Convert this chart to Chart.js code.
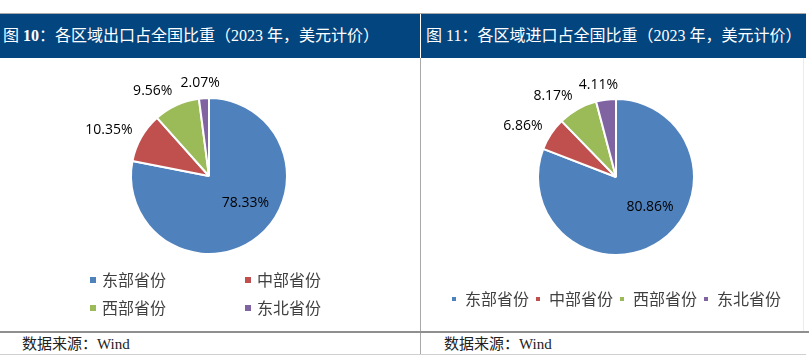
<!DOCTYPE html>
<html>
<head>
<meta charset="utf-8">
<script src="https://cdn.jsdelivr.net/npm/chart.js@4"></script>
<style>
  body { margin: 0; width: 812px; height: 364px; background: #fff; position: relative; overflow: hidden;
         font-family: "Liberation Serif", "Noto Sans CJK SC", serif; }
  .line { position: absolute; }
  .title { position: absolute; top: 14px; height: 44px; line-height: 44px; color: #fff; font-size: 16px; white-space: nowrap; }
  .source { position: absolute; top: 334px; height: 20px; line-height: 20px; font-size: 15px; color: #222; }
  canvas { position: absolute; }
  .legend { position: absolute; font-size: 16px; color: #404040; font-family: "Noto Sans CJK SC", sans-serif; }
  .legend span.item { position: absolute; white-space: nowrap; line-height: 20px; }
  .legend i { display: inline-block; width: 6px; height: 6px; margin-right: 6px; vertical-align: 3px; }
</style>
</head>
<body>
<!-- frame -->
<div class="line" style="left:0;top:13px;width:806px;height:1px;background:#a8a8a8"></div>
<div class="line" style="left:0;top:14px;width:806px;height:44px;background:#03457f"></div>
<div class="line" style="left:420px;top:14px;width:1px;height:44px;background:#fff"></div>
<div class="line" style="left:420px;top:58px;width:1px;height:297px;background:#a8a8a8"></div>
<div class="line" style="left:803px;top:58px;width:1px;height:274px;background:#ececec"></div>
<div class="line" style="left:0;top:331px;width:809px;height:2px;background:#8f8f8f"></div>
<div class="line" style="left:0;top:354px;width:806px;height:1px;background:#d0d0d0"></div>

<div class="title" style="left:3px">图 <b>10</b>：各区域出口占全国比重（2023 年，美元计价）</div>
<div class="title" style="left:426px">图 11：各区域进口占全国比重（2023 年，美元计价）</div>
<div class="source" style="left:22px">数据来源：Wind</div>
<div class="source" style="left:444px">数据来源：Wind</div>

<canvas id="exportChart" width="418" height="236" style="left:0;top:58px"></canvas>
<canvas id="importChart" width="386" height="272" style="left:423px;top:58px"></canvas>
<div class="legend" id="exportLegend"></div>

<script>
// 2023 regional share of national trade (%), USD basis
const regions = ['东部省份', '中部省份', '西部省份', '东北省份'];
const exportShare = [78.33, 10.35, 9.56, 2.07];
const importShare = [80.86, 6.86, 8.17, 4.11];
const colors = ['#4F81BD', '#C0504D', '#9BBB59', '#8064A2'];

// percentage labels: big slice inside, small ones outside the rim
const pctLabels = {
    id: 'pctLabels',
    afterDatasetsDraw(chart) {
        const ctx = chart.ctx;
        const values = chart.data.datasets[0].data;
        ctx.save();
        ctx.font = '14px "Open Sans"';
        ctx.fillStyle = '#000';
        ctx.textAlign = 'center';
        ctx.textBaseline = 'middle';
        chart.getDatasetMeta(0).data.forEach((arc, i) => {
            const p = arc.getProps(['x', 'y', 'startAngle', 'endAngle', 'outerRadius']);
            const text = values[i].toFixed(2) + '%';
            const mid = (p.startAngle + p.endAngle) / 2;
            if (p.endAngle - p.startAngle > Math.PI) {
                const a = mid - 0.25;
                const d = p.outerRadius * 0.58;
                ctx.fillText(text, p.x + Math.cos(a) * d, p.y + Math.sin(a) * d);
            } else {
                const w = ctx.measureText(text).width;
                const d = p.outerRadius + 10;
                const c = Math.cos(mid), s = Math.sin(mid);
                // push the box sideways more when the label sits beside the pie
                const side = Math.sign(c) * (w / 2) * Math.min(Math.abs(c) * 2.5, 1);
                ctx.fillText(text, p.x + c * d + side, p.y + s * (d + 5));
            }
        });
        ctx.restore();
    }
};

function pieConfig(values, showLegend, padding) {
    return {
        type: 'pie',
        data: {
            labels: regions,
            datasets: [{
                data: values,
                backgroundColor: colors,
                borderColor: '#fff',
                borderWidth: 2,
                radius: 78
            }]
        },
        options: {
            responsive: false,
            animation: false,
            devicePixelRatio: 1,
            layout: { padding: padding },
            plugins: {
                tooltip: { enabled: false },
                legend: {
                    display: showLegend,
                    position: 'bottom',
                    labels: {
                        usePointStyle: true,
                        pointStyle: 'rect',
                        boxWidth: 6,
                        boxHeight: 6,
                        padding: 6,
                        color: '#404040',
                        font: { family: '"Noto Sans CJK SC"', size: 16 }
                    }
                }
            }
        },
        plugins: [pctLabels]
    };
}

new Chart(document.getElementById('exportChart'), pieConfig(exportShare, false, 0));
new Chart(document.getElementById('importChart'), pieConfig(importShare, true, { top: 11, bottom: 13 }));

// left panel legend is a 2x2 grid
const legendPos = [[90, 269], [245, 269], [90, 297], [245, 297]];
const legendEl = document.getElementById('exportLegend');
regions.forEach((name, i) => {
    const item = document.createElement('span');
    item.className = 'item';
    item.style.left = legendPos[i][0] + 'px';
    item.style.top = legendPos[i][1] + 'px';
    item.innerHTML = '<i style="background:' + colors[i] + '"></i>' + name;
    legendEl.appendChild(item);
});
</script>
</body>
</html>
